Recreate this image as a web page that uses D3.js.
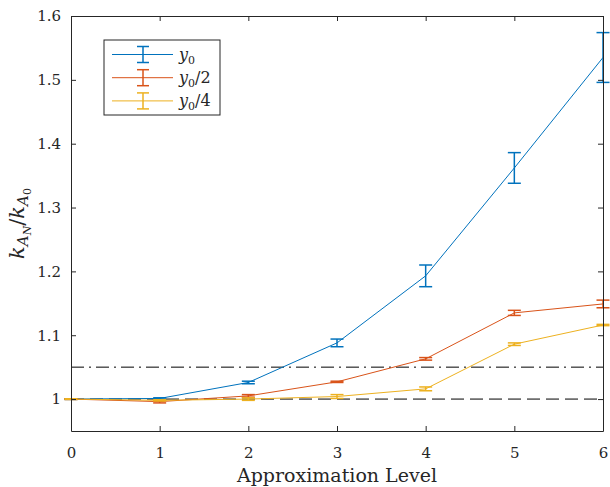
<!DOCTYPE html>
<html>
<head>
<meta charset="utf-8">
<script src="https://cdn.jsdelivr.net/npm/d3@7"></script>
<style>
  body { margin: 0; background: #fff; }
  svg text { font-family: "DejaVu Serif", serif !important; fill: #262626; }
</style>
</head>
<body>
<svg id="chart" width="610" height="487"></svg>
<script>
const levels = [0, 1, 2, 3, 4, 5, 6];
const seriesNames = ["y0", "y0/2", "y0/4"];
const y0Values = [1.0, 1.001, 1.026, 1.088, 1.193, 1.362, 1.535];
const y0Errors = [0.0005, 0.001, 0.002, 0.006, 0.017, 0.024, 0.039];
const y0h2Values = [1.0, 0.996, 1.005, 1.027, 1.063, 1.135, 1.149];
const y0h2Errors = [0.0005, 0.002, 0.002, 0.001, 0.002, 0.004, 0.006];
const y0h4Values = [1.0, 0.998, 1.0, 1.004, 1.016, 1.086, 1.116];
const y0h4Errors = [0.0005, 0.001, 0.002, 0.003, 0.003, 0.002, 0.001];
const yTicks = [1, 1.1, 1.2, 1.3, 1.4, 1.5, 1.6];
const refLines = [1.0, 1.05];
const colors = ["#0072BD", "#D95319", "#EDB120"];

const svg = d3.select("#chart");
const margin = { top: 16, right: 7, bottom: 56, left: 71 };
const width = +svg.attr("width");
const height = +svg.attr("height");
const innerWidth = width - margin.left - margin.right;
const innerHeight = height - margin.top - margin.bottom;

const g = svg.append("g").attr("transform", `translate(${margin.left},${margin.top})`);

const xScale = d3.scaleLinear().domain([0, 6]).range([0, innerWidth]);
const yScale = d3.scaleLinear().domain([0.95, 1.6]).range([innerHeight, 0]);

const series = [
  { name: seriesNames[0], values: y0Values, errors: y0Errors },
  { name: seriesNames[1], values: y0h2Values, errors: y0h2Errors },
  { name: seriesNames[2], values: y0h4Values, errors: y0h4Errors }
];

// reference lines at 1 and 1.05
g.append("line")
  .attr("x1", 0).attr("x2", innerWidth)
  .attr("y1", yScale(refLines[0])).attr("y2", yScale(refLines[0]))
  .attr("stroke", "#000").attr("stroke-width", 1)
  .attr("stroke-dasharray", "13,6");
g.append("line")
  .attr("x1", 0).attr("x2", innerWidth)
  .attr("y1", yScale(refLines[1])).attr("y2", yScale(refLines[1]))
  .attr("stroke", "#000").attr("stroke-width", 1)
  .attr("stroke-dasharray", "13,5,2,5");

// series with error bars
const line = d3.line().x((d, i) => xScale(levels[i])).y(d => yScale(d));
const cap = 6.5;

series.forEach((s, k) => {
  const sg = g.append("g");
  sg.append("path")
    .attr("d", line(s.values))
    .attr("fill", "none")
    .attr("stroke", colors[k])
    .attr("stroke-width", 1);
  s.values.forEach((v, i) => {
    const x = xScale(levels[i]);
    const yt = yScale(v + s.errors[i]);
    const yb = yScale(v - s.errors[i]);
    sg.append("line").attr("x1", x).attr("x2", x).attr("y1", yt).attr("y2", yb)
      .attr("stroke", colors[k]).attr("stroke-width", 1.5);
    sg.append("line").attr("x1", x - cap).attr("x2", x + cap).attr("y1", yt).attr("y2", yt)
      .attr("stroke", colors[k]).attr("stroke-width", 1.5);
    sg.append("line").attr("x1", x - cap).attr("x2", x + cap).attr("y1", yb).attr("y2", yb)
      .attr("stroke", colors[k]).attr("stroke-width", 1.5);
  });
});

// axes (box with inward ticks)
g.append("g")
  .attr("transform", `translate(0,${innerHeight})`)
  .call(d3.axisBottom(xScale).tickValues(levels).tickFormat(d3.format("d")).tickSizeInner(-5).tickSizeOuter(0).tickPadding(16));
g.append("g")
  .call(d3.axisLeft(yScale).tickValues(yTicks).tickFormat(d3.format("~g")).tickSizeInner(-5).tickSizeOuter(0).tickPadding(10));
const topAxis = g.append("g")
  .call(d3.axisTop(xScale).tickValues(levels).tickSizeInner(-5).tickSizeOuter(0));
const rightAxis = g.append("g")
  .attr("transform", `translate(${innerWidth},0)`)
  .call(d3.axisRight(yScale).tickValues(yTicks).tickSizeInner(-5).tickSizeOuter(0));
topAxis.selectAll(".tick text").remove();
rightAxis.selectAll(".tick text").remove();

g.selectAll(".domain, .tick line").attr("stroke", "#262626").attr("stroke-width", 1);
g.selectAll(".tick text").attr("font-size", 15).attr("fill", "#262626");

// axis labels
svg.append("text")
  .attr("x", margin.left + innerWidth / 2)
  .attr("y", 482)
  .attr("text-anchor", "middle")
  .attr("font-size", 19)
  .text("Approximation Level");

const yl = svg.append("text")
  .attr("transform", `translate(24,${margin.top + innerHeight / 2}) rotate(-90)`)
  .attr("text-anchor", "middle")
  .attr("font-size", 21)
  .attr("font-style", "italic");
yl.append("tspan").text("k");
yl.append("tspan").attr("font-size", 15).attr("dy", 4).text("A");
yl.append("tspan").attr("font-size", 11).attr("dy", 3).text("N");
yl.append("tspan").attr("dy", -7).attr("font-style", "normal").text("/");
yl.append("tspan").text("k");
yl.append("tspan").attr("font-size", 15).attr("dy", 4).text("A");
yl.append("tspan").attr("font-size", 11).attr("dy", 3).attr("font-style", "normal").text("0");

// legend
const legend = svg.append("g").attr("transform", "translate(104,40)");
legend.append("rect")
  .attr("width", 116).attr("height", 75)
  .attr("fill", "#fff").attr("stroke", "#262626").attr("stroke-width", 1);

const suffixes = ["", "/2", "/4"];
series.forEach((s, k) => {
  const cy = 14.5 + k * 23.2;
  const lg = legend.append("g");
  lg.append("line").attr("x1", 8).attr("x2", 69).attr("y1", cy).attr("y2", cy)
    .attr("stroke", colors[k]).attr("stroke-width", 1);
  lg.append("line").attr("x1", 39).attr("x2", 39).attr("y1", cy - 8).attr("y2", cy + 8)
    .attr("stroke", colors[k]).attr("stroke-width", 1.5);
  [cy - 8, cy + 8].forEach(yy => {
    lg.append("line").attr("x1", 33).attr("x2", 45).attr("y1", yy).attr("y2", yy)
      .attr("stroke", colors[k]).attr("stroke-width", 1.5);
  });
  const t = lg.append("text").attr("x", 75).attr("y", cy + 5).attr("font-size", 16);
  t.append("tspan").attr("font-style", "italic").text("y");
  t.append("tspan").attr("font-size", 11).attr("dy", 4).text("0");
  if (suffixes[k]) t.append("tspan").attr("dy", -4).text(suffixes[k]);
});
</script>
</body>
</html>
